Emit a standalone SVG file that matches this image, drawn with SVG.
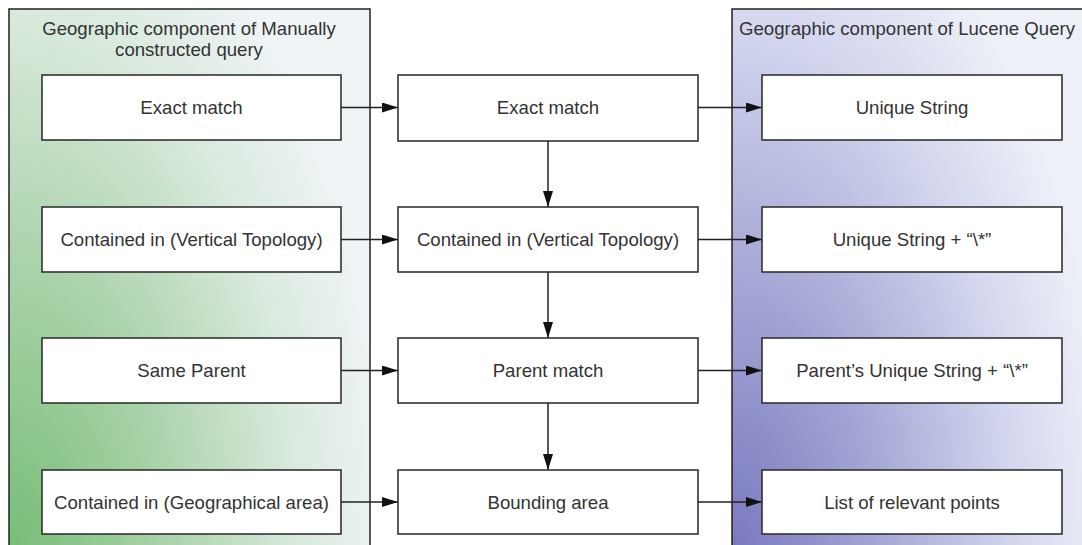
<svg xmlns="http://www.w3.org/2000/svg" width="1082" height="545" viewBox="0 0 1082 545">
<style>
.panel{stroke:#222;stroke-width:1.5}
.box{fill:#fff;stroke:#333;stroke-width:1.6}
.t{font-family:"Liberation Sans",Arial,sans-serif;font-size:18.6px;fill:#333;text-anchor:middle}
.c{stroke:#222;stroke-width:1.5;fill:none;marker-end:url(#ah)}
</style>
<defs>
<radialGradient id="gG" gradientUnits="userSpaceOnUse" cx="0" cy="0" r="1" gradientTransform="translate(9,560) scale(380,720)">
<stop offset="0" stop-color="#76bc76"/>
<stop offset="0.4" stop-color="#a8d2a8"/>
<stop offset="0.75" stop-color="#d8e9dc"/>
<stop offset="1" stop-color="#eff4f6"/>
</radialGradient>
<radialGradient id="gP" gradientUnits="userSpaceOnUse" cx="0" cy="0" r="1" gradientTransform="translate(732,560) scale(380,720)">
<stop offset="0" stop-color="#7878be"/>
<stop offset="0.4" stop-color="#a6a8d6"/>
<stop offset="0.75" stop-color="#d4d7ee"/>
<stop offset="1" stop-color="#eef0f8"/>
</radialGradient>
<marker id="ah" viewBox="0 0 16 10" refX="16" refY="5" markerWidth="16" markerHeight="10" markerUnits="userSpaceOnUse" orient="auto">
<path d="M0,0 L16,5 L0,10 z" fill="#111"/>
</marker>
</defs>
<g id="panel-left">
<rect class="panel" x="9" y="9" width="361" height="545" fill="url(#gG)"/>
<text class="t" x="189" y="35">Geographic component of Manually</text>
<text class="t" x="189" y="56">constructed query</text>
</g>
<g id="panel-right">
<rect class="panel" x="732" y="9" width="360" height="545" fill="url(#gP)"/>
<text class="t" x="907" y="35">Geographic component of Lucene Query</text>
</g>
<g id="connectors">
<line class="c" x1="341" y1="107.5" x2="398" y2="107.5"/>
<line class="c" x1="698" y1="107.5" x2="762" y2="107.5"/>
<line class="c" x1="341" y1="239.5" x2="398" y2="239.5"/>
<line class="c" x1="698" y1="239.5" x2="762" y2="239.5"/>
<line class="c" x1="341" y1="370.5" x2="398" y2="370.5"/>
<line class="c" x1="698" y1="370.5" x2="762" y2="370.5"/>
<line class="c" x1="341" y1="502" x2="398" y2="502"/>
<line class="c" x1="698" y1="502" x2="762" y2="502"/>
<line class="c" x1="548" y1="141" x2="548" y2="207"/>
<line class="c" x1="548" y1="272" x2="548" y2="338"/>
<line class="c" x1="548" y1="403" x2="548" y2="470"/>
</g>
<g id="l1"><rect class="box" x="42" y="75" width="299" height="65"/><text class="t" x="191.5" y="114">Exact match</text></g>
<g id="l2"><rect class="box" x="42" y="207" width="299" height="65"/><text class="t" x="191.5" y="246">Contained in (Vertical Topology)</text></g>
<g id="l3"><rect class="box" x="42" y="338" width="299" height="65"/><text class="t" x="191.5" y="377">Same Parent</text></g>
<g id="l4"><rect class="box" x="42" y="470" width="299" height="64"/><text class="t" x="191.5" y="508.5">Contained in (Geographical area)</text></g>
<g id="m1"><rect class="box" x="398" y="75" width="300" height="66"/><text class="t" x="548" y="114">Exact match</text></g>
<g id="m2"><rect class="box" x="398" y="207" width="300" height="65"/><text class="t" x="548" y="246">Contained in (Vertical Topology)</text></g>
<g id="m3"><rect class="box" x="398" y="338" width="300" height="65"/><text class="t" x="548" y="377">Parent match</text></g>
<g id="m4"><rect class="box" x="398" y="470" width="300" height="64"/><text class="t" x="548" y="508.5">Bounding area</text></g>
<g id="r1"><rect class="box" x="762" y="75" width="300" height="65"/><text class="t" x="912" y="114">Unique String</text></g>
<g id="r2"><rect class="box" x="762" y="207" width="300" height="65"/><text class="t" x="912" y="246">Unique String + “\*”</text></g>
<g id="r3"><rect class="box" x="762" y="338" width="300" height="65"/><text class="t" x="912" y="377">Parent’s Unique String + “\*”</text></g>
<g id="r4"><rect class="box" x="762" y="470" width="300" height="64"/><text class="t" x="912" y="508.5">List of relevant points</text></g>
</svg>
